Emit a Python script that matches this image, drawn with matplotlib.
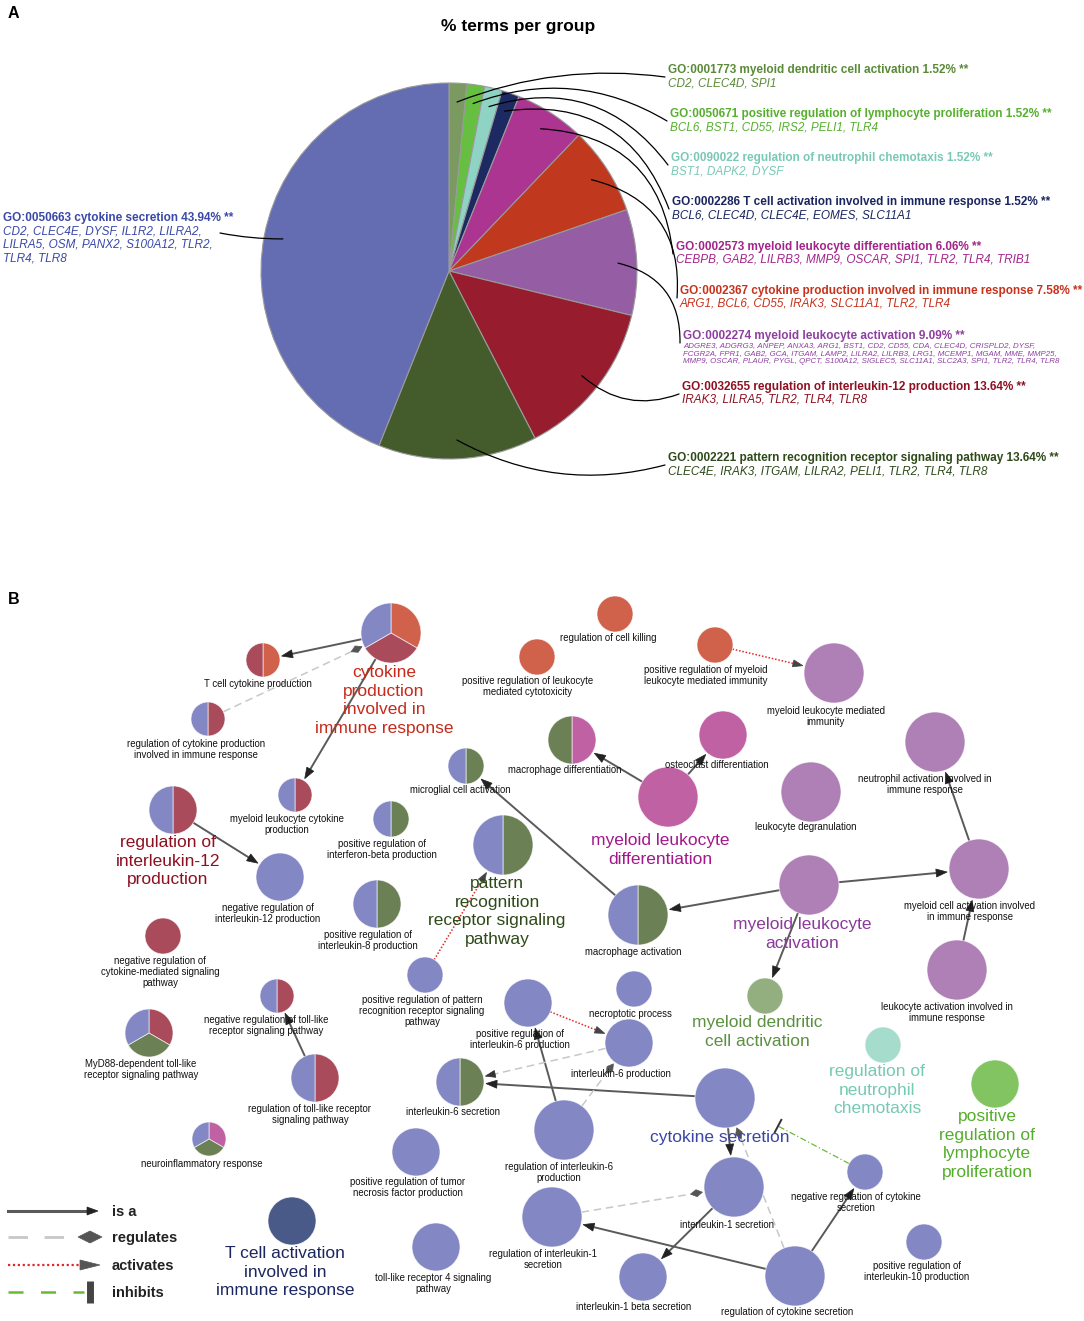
import numpy as np
import matplotlib
matplotlib.use("Agg")
import matplotlib.pyplot as plt
from matplotlib.patches import Wedge, FancyArrowPatch, Polygon

plt.rcParams['font.family'] = ['Liberation Sans', 'DejaVu Sans']

W, H = 1084, 1321

# ---------------- panel A: % terms per group ----------------
go_ids = ["GO:0001773", "GO:0050671", "GO:0090022", "GO:0002286", "GO:0002573",
          "GO:0002367", "GO:0002274", "GO:0032655", "GO:0002221", "GO:0050663"]
go_terms = ["myeloid dendritic cell activation",
            "positive regulation of lymphocyte proliferation",
            "regulation of neutrophil chemotaxis",
            "T cell activation involved in immune response",
            "myeloid leukocyte differentiation",
            "cytokine production involved in immune response",
            "myeloid leukocyte activation",
            "regulation of interleukin-12 production",
            "pattern recognition receptor signaling pathway",
            "cytokine secretion"]
go_pct = [1.52, 1.52, 1.52, 1.52, 6.06, 7.58, 9.09, 13.64, 13.64, 43.94]
go_genes = ["CD2, CLEC4D, SPI1",
            "BCL6, BST1, CD55, IRS2, PELI1, TLR4",
            "BST1, DAPK2, DYSF",
            "BCL6, CLEC4D, CLEC4E, EOMES, SLC11A1",
            "CEBPB, GAB2, LILRB3, MMP9, OSCAR, SPI1, TLR2, TLR4, TRIB1",
            "ARG1, BCL6, CD55, IRAK3, SLC11A1, TLR2, TLR4",
            "ADGRE3, ADGRG3, ANPEP, ANXA3, ARG1, BST1, CD2, CD55, CDA, CLEC4D, CRISPLD2, DYSF,\n"
            "FCGR2A, FPR1, GAB2, GCA, ITGAM, LAMP2, LILRA2, LILRB3, LRG1, MCEMP1, MGAM, MME, MMP25,\n"
            "MMP9, OSCAR, PLAUR, PYGL, QPCT, S100A12, SIGLEC5, SLC11A1, SLC2A3, SPI1, TLR2, TLR4, TLR8",
            "IRAK3, LILRA5, TLR2, TLR4, TLR8",
            "CLEC4E, IRAK3, ITGAM, LILRA2, PELI1, TLR2, TLR4, TLR8",
            "CD2, CLEC4E, DYSF, IL1R2, LILRA2,\nLILRA5, OSM, PANX2, S100A12, TLR2,\nTLR4, TLR8"]

pie_colors = ['#7a9a62', '#66bf40', '#8ed3c3', '#1d2a62', '#ab3590',
              '#c0391f', '#955da3', '#961c2e', '#445c2c', '#646db1']
text_colors = ['#5a8a38', '#56b02e', '#78c9b5', '#1a2560', '#a3248a',
               '#c8321c', '#8e3fa0', '#8f1020', '#2f4a1a', '#3a48a8']
# label anchor (x, title-line y) in pixels, and curvature of leader lines
lab_xy = [(668, 70), (670, 114), (671, 158), (672, 202), (676, 247),
          (680, 291), (683, 336), (682, 387), (668, 458), (3, 218)]
lab_rad = [0.13, 0.24, 0.35, 0.4, 0.42, 0.42, 0.4, -0.3, -0.2, 0.05]
pc_x, pc_y, pr = 449, 271, 188

# ---------------- panel B: network ----------------
net_colors = {'secr': '#8388c4', 'il12': '#a94b5a', 'prod': '#d0614b', 'prr': '#6b8055',
              'diff': '#c061a4', 'act': '#ae80b6', 'dend': '#93ae7f', 'neut': '#a6dccb',
              'lymph': '#82c461', 'tcell': '#4a5a88'}
hub_colors = {'secr': '#3a46a6', 'il12': '#8c1020', 'prod': '#c62a1a', 'prr': '#2f4a19',
              'diff': '#a3178a', 'act': '#8a3a9a', 'dend': '#5a9040', 'neut': '#76c9b2',
              'lymph': '#55ad2c', 'tcell': '#1b2660'}

node_keys = ['prod_hub', 'tcell_cyt', 'reg_cyt_inv', 'mye_cyt', 'il12_hub', 'neg_il12',
             'neg_cytsig', 'neg_tlr', 'myd88', 'reg_tlr', 'neuroinf', 'tcell_hub',
             'ifnb', 'il8', 'pos_prr', 'microglial', 'prr_hub', 'tnf', 'tlr4',
             'il6_secr', 'pos_il6', 'necro', 'il6_prod', 'reg_il6', 'secr_hub',
             'il1_secr', 'reg_il1', 'il1b', 'reg_cyt_secr', 'neg_cyt_secr', 'il10',
             'cell_kill', 'cytotox', 'pos_mye_imm', 'mye_imm', 'mac_diff', 'osteo',
             'diff_hub', 'degran', 'neut_act', 'mac_act', 'act_hub', 'mye_cell_act',
             'leuk_act', 'dend_hub', 'neut_hub', 'lymph_hub']
node_labels = ["cytokine\nproduction\ninvolved in\nimmune response",
               "T cell cytokine production",
               "regulation of cytokine production\ninvolved in immune response",
               "myeloid leukocyte cytokine\nproduction",
               "regulation of\ninterleukin-12\nproduction",
               "negative regulation of\ninterleukin-12 production",
               "negative regulation of\ncytokine-mediated signaling\npathway",
               "negative regulation of toll-like\nreceptor signaling pathway",
               "MyD88-dependent toll-like\nreceptor signaling pathway",
               "regulation of toll-like receptor\nsignaling pathway",
               "neuroinflammatory response",
               "T cell activation\ninvolved in\nimmune response",
               "positive regulation of\ninterferon-beta production",
               "positive regulation of\ninterleukin-8 production",
               "positive regulation of pattern\nrecognition receptor signaling\npathway",
               "microglial cell activation",
               "pattern\nrecognition\nreceptor signaling\npathway",
               "positive regulation of tumor\nnecrosis factor production",
               "toll-like receptor 4 signaling\npathway",
               "interleukin-6 secretion",
               "positive regulation of\ninterleukin-6 production",
               "necroptotic process",
               "interleukin-6 production",
               "regulation of interleukin-6\nproduction",
               "cytokine secretion",
               "interleukin-1 secretion",
               "regulation of interleukin-1\nsecretion",
               "interleukin-1 beta secretion",
               "regulation of cytokine secretion",
               "negative regulation of cytokine\nsecretion",
               "positive regulation of\ninterleukin-10 production",
               "regulation of cell killing",
               "positive regulation of leukocyte\nmediated cytotoxicity",
               "positive regulation of myeloid\nleukocyte mediated immunity",
               "myeloid leukocyte mediated\nimmunity",
               "macrophage differentiation",
               "osteoclast differentiation",
               "myeloid leukocyte\ndifferentiation",
               "leukocyte degranulation",
               "neutrophil activation involved in\nimmune response",
               "macrophage activation",
               "myeloid leukocyte\nactivation",
               "myeloid cell activation involved\nin immune response",
               "leukocyte activation involved in\nimmune response",
               "myeloid dendritic\ncell activation",
               "regulation of\nneutrophil\nchemotaxis",
               "positive\nregulation of\nlymphocyte\nproliferation"]
# groups of each node, clockwise from 12 o'clock
node_groups = [['prod', 'il12', 'secr'], ['prod', 'il12'], ['il12', 'secr'], ['il12', 'secr'],
               ['il12', 'secr'], ['secr'], ['il12'], ['il12', 'secr'], ['il12', 'prr', 'secr'],
               ['il12', 'secr'], ['diff', 'prr', 'secr'], ['tcell'],
               ['prr', 'secr'], ['prr', 'secr'], ['secr'], ['prr', 'secr'], ['prr', 'secr'],
               ['secr'], ['secr'], ['prr', 'secr'], ['secr'], ['secr'], ['secr'], ['secr'],
               ['secr'], ['secr'], ['secr'], ['secr'], ['secr'], ['secr'], ['secr'],
               ['prod'], ['prod'], ['prod'], ['act'], ['diff', 'prr'], ['diff'], ['diff'],
               ['act'], ['act'], ['prr', 'secr'], ['act'], ['act'], ['act'], ['dend'],
               ['neut'], ['lymph']]
hub_nodes = {'prod_hub': 'prod', 'il12_hub': 'il12', 'tcell_hub': 'tcell', 'prr_hub': 'prr',
             'secr_hub': 'secr', 'diff_hub': 'diff', 'act_hub': 'act', 'dend_hub': 'dend',
             'neut_hub': 'neut', 'lymph_hub': 'lymph'}

edges = [('prod_hub', 'tcell_cyt', 'is_a'), ('prod_hub', 'mye_cyt', 'is_a'),
         ('il12_hub', 'neg_il12', 'is_a'), ('reg_tlr', 'neg_tlr', 'is_a'),
         ('mac_act', 'microglial', 'is_a'), ('diff_hub', 'mac_diff', 'is_a'),
         ('diff_hub', 'osteo', 'is_a'), ('act_hub', 'mac_act', 'is_a'),
         ('act_hub', 'mye_cell_act', 'is_a'), ('act_hub', 'dend_hub', 'is_a'),
         ('mye_cell_act', 'neut_act', 'is_a'), ('leuk_act', 'mye_cell_act', 'is_a'),
         ('secr_hub', 'il6_secr', 'is_a'), ('secr_hub', 'il1_secr', 'is_a'),
         ('reg_il6', 'pos_il6', 'is_a'), ('il1_secr', 'il1b', 'is_a'),
         ('reg_cyt_secr', 'reg_il1', 'is_a'), ('reg_cyt_secr', 'neg_cyt_secr', 'is_a'),
         ('reg_cyt_inv', 'prod_hub', 'regulates'), ('reg_il6', 'il6_prod', 'regulates'),
         ('reg_il1', 'il1_secr', 'regulates'), ('reg_cyt_secr', 'secr_hub', 'regulates'),
         ('il6_prod', 'il6_secr', 'pos'),
         ('pos_mye_imm', 'mye_imm', 'activates'), ('pos_prr', 'prr_hub', 'activates'),
         ('pos_il6', 'il6_prod', 'activates'),
         ('neg_cyt_secr', 'secr_hub', 'inhibits')]

legend_names = ["is a", "regulates", "activates", "inhibits"]

# layout: node centre (x, y), radius, label anchor (x, top y) in pixels
layout = {
    'prod_hub': (391, 633, 30, 384, 665), 'tcell_cyt': (263, 660, 17, 258, 679),
    'reg_cyt_inv': (208, 719, 17, 196, 739), 'mye_cyt': (295, 795, 17, 287, 814),
    'il12_hub': (173, 810, 24, 168, 835), 'neg_il12': (280, 877, 24, 268, 903),
    'neg_cytsig': (163, 936, 18, 160, 956), 'neg_tlr': (277, 996, 17, 266, 1015),
    'myd88': (149, 1033, 24, 141, 1059), 'reg_tlr': (315, 1078, 24, 310, 1104),
    'neuroinf': (209, 1139, 17, 202, 1159), 'tcell_hub': (292, 1221, 24, 285, 1246),
    'ifnb': (391, 819, 18, 382, 839), 'il8': (377, 904, 24, 368, 930),
    'pos_prr': (425, 975, 18, 422, 995), 'microglial': (466, 766, 18, 460, 785),
    'prr_hub': (503, 845, 30, 497, 876), 'tnf': (416, 1152, 24, 408, 1177),
    'tlr4': (436, 1247, 24, 433, 1273), 'il6_secr': (460, 1082, 24, 453, 1107),
    'pos_il6': (528, 1003, 24, 520, 1029), 'necro': (634, 989, 18, 630, 1009),
    'il6_prod': (629, 1043, 24, 621, 1069), 'reg_il6': (564, 1130, 30, 559, 1162),
    'secr_hub': (725, 1098, 30, 720, 1130), 'il1_secr': (734, 1187, 30, 727, 1220),
    'reg_il1': (552, 1217, 30, 543, 1249), 'il1b': (643, 1277, 24, 634, 1302),
    'reg_cyt_secr': (795, 1276, 30, 787, 1307), 'neg_cyt_secr': (865, 1172, 18, 856, 1192),
    'il10': (924, 1242, 18, 917, 1261), 'cell_kill': (615, 614, 18, 608, 633),
    'cytotox': (537, 657, 18, 528, 676), 'pos_mye_imm': (715, 645, 18, 706, 665),
    'mye_imm': (834, 673, 30, 826, 706), 'mac_diff': (572, 740, 24, 565, 765),
    'osteo': (723, 735, 24, 717, 760), 'diff_hub': (668, 797, 30, 660, 833),
    'degran': (811, 792, 30, 806, 822), 'neut_act': (935, 742, 30, 925, 774),
    'mac_act': (638, 915, 30, 633, 947), 'act_hub': (809, 885, 30, 802, 917),
    'mye_cell_act': (979, 869, 30, 970, 901), 'leuk_act': (957, 970, 30, 947, 1002),
    'dend_hub': (765, 996, 18, 757, 1015), 'neut_hub': (883, 1045, 18, 877, 1064),
    'lymph_hub': (995, 1084, 24, 987, 1109)}

fig = plt.figure(figsize=(W / 100, H / 100), dpi=100)

# pie axes
axA = fig.add_axes([(pc_x - pr) / W, 1 - (pc_y + pr) / H, 2 * pr / W, 2 * pr / H], zorder=0)
wedges, _ = axA.pie(go_pct, colors=pie_colors, startangle=90, counterclock=False,
                    wedgeprops=dict(edgecolor='#9a9a9a', linewidth=0.8))
axA.set_xlim(-1, 1)
axA.set_ylim(-1, 1)

# overlay axes in pixel units
ax = fig.add_axes([0, 0, 1, 1], zorder=1)
ax.set_xlim(0, W)
ax.set_ylim(H, 0)
ax.axis('off')

fig.text(8 / W, 1 - 13 / H, "A", fontsize=11.5, fontweight='bold', va='center')
fig.text(8 / W, 1 - 599 / H, "B", fontsize=11.5, fontweight='bold', va='center')
ax.text(518, 27, "% terms per group", fontsize=12.5, fontweight='bold', ha='center', va='center')

for i, w in enumerate(wedges):
    mid = np.deg2rad((w.theta1 + w.theta2) / 2)
    sx, sy = pc_x + 0.9 * pr * np.cos(mid), pc_y - 0.9 * pr * np.sin(mid)
    lx, ly = lab_xy[i]
    if lx > pc_x:
        ex, ey = lx - 3, ly + 7
    else:
        ex, ey = 220, 233
    ax.add_patch(FancyArrowPatch((ex, ey), (sx, sy), arrowstyle='-', color='black', lw=0.9,
                                 connectionstyle=f"arc3,rad={lab_rad[i]}", shrinkA=0, shrinkB=0))
    ax.text(lx, ly, f"{go_ids[i]} {go_terms[i]} {go_pct[i]:.2f}% **", color=text_colors[i],
            fontsize=8.5, fontweight='bold', ha='left', va='center')
    if i == 6:
        ax.text(lx, ly + 6, go_genes[i], color=text_colors[i], fontsize=5.7, style='italic',
                ha='left', va='top', linespacing=1.2)
    else:
        ax.text(lx, ly + 7, go_genes[i], color=text_colors[i], fontsize=8.5, style='italic',
                ha='left', va='top', linespacing=1.22)


def head(tip, u, kind, color, L=10, w=3.5):
    n = np.array([-u[1], u[0]])
    if kind == 'tri':
        pts = [tip, tip - u * L + n * w, tip - u * L - n * w]
    else:
        pts = [tip, tip - u * L / 2 + n * w, tip - u * L, tip - u * L / 2 - n * w]
    ax.add_patch(Polygon(pts, closed=True, facecolor=color, edgecolor=color, lw=0.5, zorder=2))


def draw_edge(p1, p2, kind, lw=1.4):
    p1, p2 = np.array(p1, float), np.array(p2, float)
    u = (p2 - p1) / np.linalg.norm(p2 - p1)
    if kind == 'is_a':
        ax.plot([p1[0], p2[0] - u[0] * 8], [p1[1], p2[1] - u[1] * 8], color='#5a5a5a', lw=lw, zorder=1)
        head(p2, u, 'tri', '#222222', L=11, w=4)
    elif kind == 'regulates':
        ax.plot([p1[0], p2[0] - u[0] * 10], [p1[1], p2[1] - u[1] * 10], color='#c8c8c8', lw=lw,
                ls=(0, (5, 3)), zorder=1)
        head(p2, u, 'dia', '#555555', L=12, w=3.5)
    elif kind == 'pos':
        ax.plot([p1[0], p2[0] - u[0] * 8], [p1[1], p2[1] - u[1] * 8], color='#c8c8c8', lw=lw,
                ls=(0, (5, 3)), zorder=1)
        head(p2, u, 'tri', '#333333', L=10, w=3.5)
    elif kind == 'activates':
        ax.plot([p1[0], p2[0] - u[0] * 8], [p1[1], p2[1] - u[1] * 8], color='#e02828', lw=lw,
                ls=(0, (1, 1.2)), zorder=1)
        head(p2, u, 'tri', '#444444', L=10, w=3.5)
    else:
        ax.plot([p1[0], p2[0]], [p1[1], p2[1]], color='#66bb33', lw=lw * 0.8,
                ls=(0, (5, 2, 1, 2)), zorder=1)
        n = np.array([-u[1], u[0]])
        ax.plot([p2[0] - n[0] * 7, p2[0] + n[0] * 7], [p2[1] - n[1] * 7, p2[1] + n[1] * 7],
                color='#333333', lw=1.4, zorder=2)


for a, b, kind in edges:
    xa, ya, ra = layout[a][:3]
    xb, yb, rb = layout[b][:3]
    pa, pb = np.array([xa, ya], float), np.array([xb, yb], float)
    u = (pb - pa) / np.linalg.norm(pb - pa)
    gap = 30 if kind == 'inhibits' else 2
    draw_edge(pa + u * ra, pb - u * (rb + gap), kind, lw=1.4 if kind == 'is_a' else 1.1)

for key, label, groups in zip(node_keys, node_labels, node_groups):
    x, y, r, lx, ly = layout[key]
    step = 360 / len(groups)
    for i, g in enumerate(groups):
        a1, a2 = 90 - i * step, 90 - (i + 1) * step
        ax.add_patch(Wedge((x, y), r, -a1, -a2, facecolor=net_colors[g],
                           edgecolor=(1, 1, 1, 0.7), lw=0.6, zorder=3))
    if key in hub_nodes:
        ax.text(lx, ly, label, color=hub_colors[hub_nodes[key]], fontsize=12.5, ha='center',
                va='top', linespacing=1.3, zorder=5)
    else:
        ax.text(lx, ly, label, color='#111111', fontsize=6.9, ha='center', va='top',
                linespacing=1.15, zorder=5)

# legend
leg_y = [1211, 1237, 1265, 1292]
leg_kind = ['is_a', 'regulates', 'activates', 'inhibits']
for yy, kind, name in zip(leg_y, leg_kind, legend_names):
    if kind == 'is_a':
        draw_edge((8, yy), (98, yy), kind, lw=2.2)
    elif kind == 'regulates':
        ax.plot([8, 64], [yy, yy], color='#c8c8c8', lw=2, ls=(0, (7, 6)))
        head(np.array([102.0, yy]), np.array([1.0, 0.0]), 'dia', '#555555', L=24, w=6)
    elif kind == 'activates':
        ax.plot([8, 80], [yy, yy], color='#e02828', lw=1.6, ls=(0, (1, 1.2)))
        head(np.array([100.0, yy]), np.array([1.0, 0.0]), 'tri', '#555555', L=20, w=5)
    else:
        ax.plot([8, 84], [yy, yy], color='#66bb33', lw=1.8, ls=(0, (6, 7)))
        ax.plot([90, 90], [yy - 11, yy + 11], color='#444444', lw=5, solid_capstyle='butt')
    ax.text(112, yy + 1, name, fontsize=10.5, fontweight='bold', color='#222222', va='center')

fig.savefig("out.png", dpi=100)
